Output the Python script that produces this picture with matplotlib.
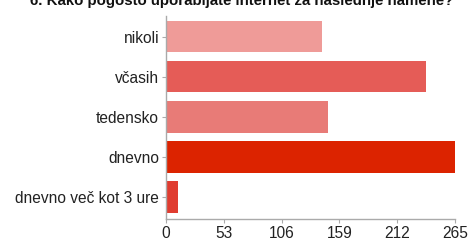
import numpy as np
import matplotlib.pyplot as plt

plt.rcParams['font.family'] = ['Liberation Sans', 'DejaVu Sans']

categories = ["nikoli", "včasih", "tedensko", "dnevno", "dnevno več kot 3 ure"]
counts = [143, 238, 149, 265, 11]
colors = ["#ef9b98", "#e55c57", "#e87b77", "#dc2300", "#e03c30"]
xticks = [0, 53, 106, 159, 212, 265]
title = "6. Kako pogosto uporabljate internet za naslednje namene?"

fig = plt.figure(figsize=(4.7, 2.4), dpi=100)
ax = fig.add_axes([166/470, 1 - 219/240, (455 - 166)/470, (219 - 16)/240])

y = np.arange(len(categories))
ax.barh(y, counts, height=0.78, color=colors, edgecolor="none")

ax.set_xlim(0, 265)
ax.set_ylim(4.55, -0.52)
ax.set_yticks(y)
ax.set_yticklabels(categories, fontsize=11.2, color="#222222")
ax.set_xticks(xticks)
ax.set_xticklabels([str(t) for t in xticks], fontsize=11.2, color="#222222")
ax.tick_params(axis="both", length=3, color="#aaaaaa", pad=2)

for s in ["top", "right"]:
    ax.spines[s].set_visible(False)
for s in ["left", "bottom"]:
    ax.spines[s].set_color("#aaaaaa")
    ax.spines[s].set_linewidth(1)

fig.text(0.515, 1 - 5/240, title, ha="center", va="baseline",
         fontsize=10.8, fontweight="bold", color="#111111")

fig.savefig("out.png", dpi=100)
